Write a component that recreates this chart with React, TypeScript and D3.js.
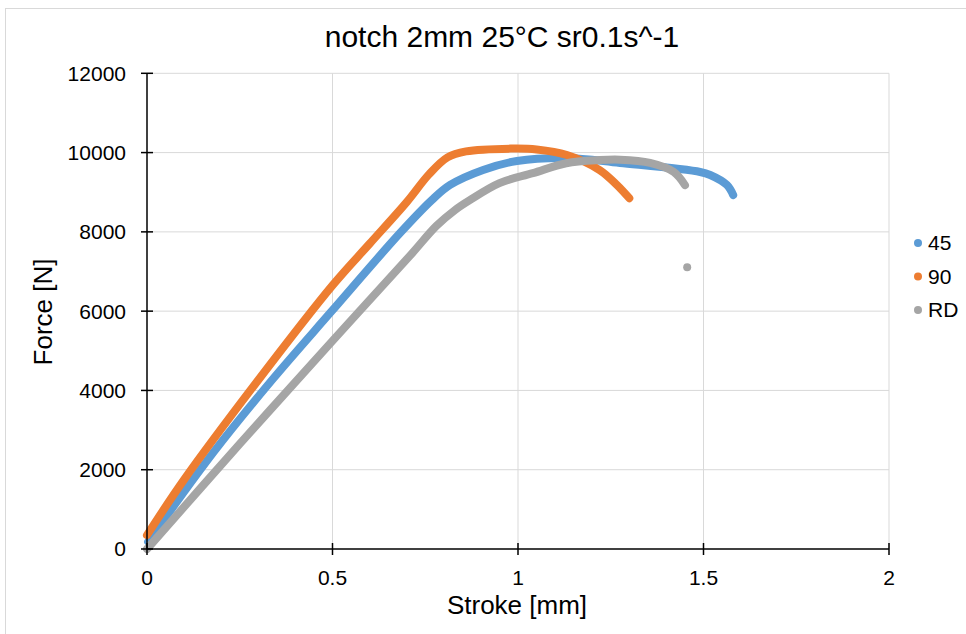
import React from 'react';
import * as d3 from 'd3';

// Stroke [mm] / Force [N]
const s45 = [0.003, 0.18, 0.337, 0.496, 0.682, 0.768, 0.817, 0.906, 0.997, 1.132, 1.275, 1.491, 1.518, 1.563, 1.58];
const f45 = [180, 2450, 4263, 5979, 7970, 8804, 9183, 9561, 9788, 9864, 9738, 9511, 9435, 9183, 8930];

const s90 = [0.0, 0.1, 0.3, 0.5, 0.6, 0.7, 0.76, 0.81, 0.86, 0.98, 1.05, 1.132, 1.22, 1.267, 1.3];
const f90 = [350, 1750, 4263, 6650, 7700, 8750, 9450, 9880, 10030, 10100, 10080, 9940, 9560, 9180, 8850];

const sRD = [0.0, 0.25, 0.5, 0.709, 0.78, 0.83, 0.87, 0.95, 1.04, 1.13, 1.22, 1.275, 1.356, 1.42, 1.45];
const fRD = [0, 2650, 5250, 7400, 8150, 8550, 8800, 9230, 9480, 9730, 9810, 9820, 9740, 9510, 9180];
const rdOutlier = [1.456, 7110];

const xTicks = [0, 0.5, 1, 1.5, 2];
const yTicks = [0, 2000, 4000, 6000, 8000, 10000, 12000];

const seriesNames = ['45', '90', 'RD'];
const colors = ['#5B9BD5', '#ED7D31', '#A5A5A5'];

const font = "'Liberation Sans', Arial, sans-serif";

export default function App() {
  const x = d3.scaleLinear().domain([0, 2]).range([147, 889]);
  const y = d3.scaleLinear().domain([0, 12000]).range([549, 73.3]);

  const line = d3
    .line<[number, number]>()
    .x(d => x(d[0]))
    .y(d => y(d[1]))
    .curve(d3.curveCatmullRom);

  const series = [
    d3.zip(s45, f45) as [number, number][],
    d3.zip(s90, f90) as [number, number][],
    d3.zip(sRD, fRD) as [number, number][],
  ];

  return (
    <svg width={966} height={634} style={{ position: 'absolute', left: 0, top: 0 }} fontFamily={font}>
      <rect x={0} y={0} width={966} height={634} fill="#fff" />
      <rect x={5.5} y={8.5} width={1000} height={700} fill="none" stroke="#D9D9D9" />

      {/* grid */}
      {yTicks.slice(1).map(t => (
        <line key={'gy' + t} x1={x(0)} x2={x(2)} y1={y(t)} y2={y(t)} stroke="#D9D9D9" />
      ))}
      {xTicks.slice(1).map(t => (
        <line key={'gx' + t} x1={x(t)} x2={x(t)} y1={y(0)} y2={y(12000)} stroke="#D9D9D9" />
      ))}

      {/* data */}
      {series.map((pts, i) => (
        <path
          key={seriesNames[i]}
          d={line(pts) || ''}
          fill="none"
          stroke={colors[i]}
          strokeWidth={8}
          strokeLinecap="round"
          strokeLinejoin="round"
        />
      ))}
      <circle cx={x(rdOutlier[0])} cy={y(rdOutlier[1])} r={4} fill={colors[2]} />

      {/* axes */}
      <line x1={x(0)} x2={x(2)} y1={y(0)} y2={y(0)} stroke="#000" strokeWidth={1.5} />
      <line x1={x(0)} x2={x(0)} y1={y(0)} y2={y(12000)} stroke="#000" strokeWidth={1.5} />
      {xTicks.map(t => (
        <g key={'xt' + t}>
          <line x1={x(t)} x2={x(t)} y1={y(0) - 6} y2={y(0) + 6} stroke="#000" strokeWidth={1.5} />
          <text x={x(t)} y={585} textAnchor="middle" fontSize={21}>
            {t}
          </text>
        </g>
      ))}
      {yTicks.map(t => (
        <g key={'yt' + t}>
          <line x1={x(0) - 6} x2={x(0) + 6} y1={y(t)} y2={y(t)} stroke="#000" strokeWidth={1.5} />
          <text x={126} y={y(t)} dy="0.35em" textAnchor="end" fontSize={21}>
            {t}
          </text>
        </g>
      ))}

      {/* titles */}
      <text x={502} y={47} textAnchor="middle" fontSize={30}>
        notch 2mm 25°C sr0.1s^-1
      </text>
      <text x={517} y={614} textAnchor="middle" fontSize={26}>
        Stroke [mm]
      </text>
      <text transform={`translate(52,312) rotate(-90)`} textAnchor="middle" fontSize={26}>
        Force [N]
      </text>

      {/* legend */}
      {seriesNames.map((n, i) => (
        <g key={'lg' + n} transform={`translate(918,${243 + i * 33.5})`}>
          <circle r={4} fill={colors[i]} />
          <text x={10} dy="0.35em" fontSize={21}>
            {n}
          </text>
        </g>
      ))}
    </svg>
  );
}
